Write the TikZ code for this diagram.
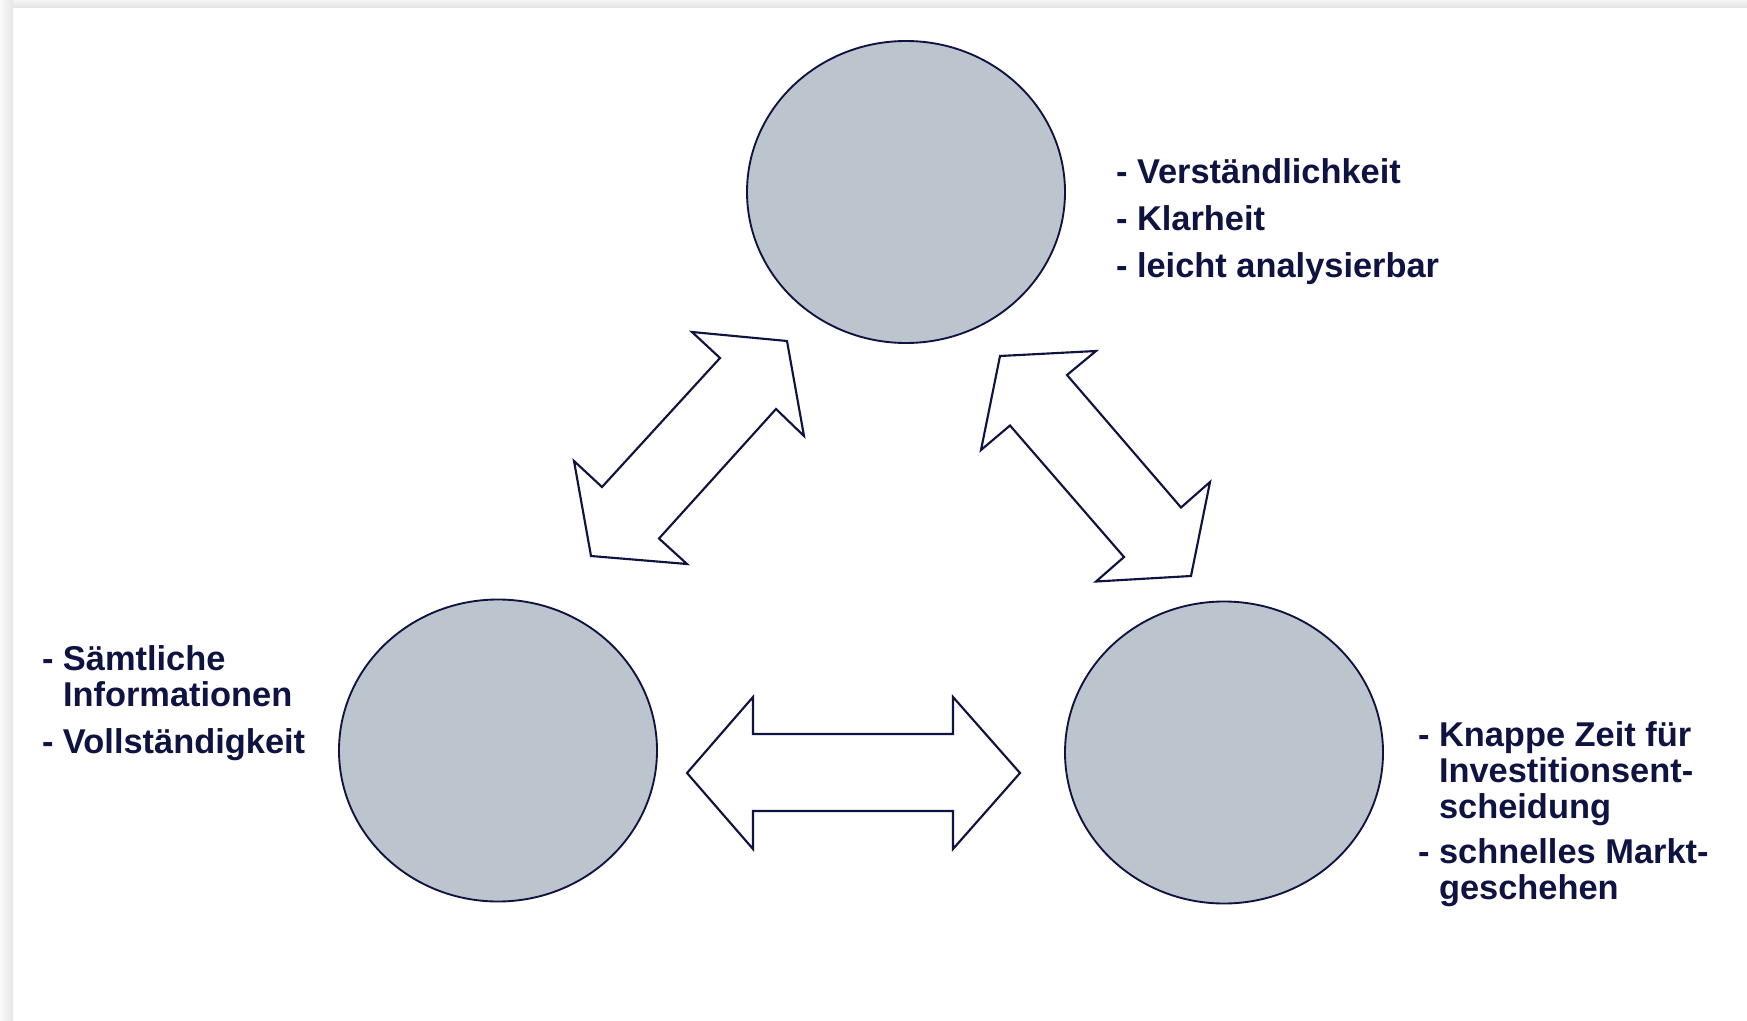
\documentclass[tikz,border=0pt]{standalone}
\usepackage{fontspec}
\setmainfont{Liberation Sans}
\usetikzlibrary{shapes.geometric}
\definecolor{navy}{HTML}{0E1341}
\definecolor{circfill}{HTML}{BCC4CE}
\begin{document}
\begin{tikzpicture}[x=0.75pt,y=-0.75pt,
  circ/.style={ellipse, draw=navy, fill=circfill, line width=1.4pt,
    minimum width=238.5pt, minimum height=226.5pt, inner sep=0pt, outer sep=0pt},
  arr/.style={draw=navy, fill=white, line width=1.6pt, line join=miter},
  lbl/.style={anchor=base west, inner sep=0pt, outer sep=0pt, text=navy,
    font=\fontsize{25.8}{27}\selectfont\bfseries}]
\useasboundingbox (0,0) rectangle (1747,1020);
\fill[white] (0,0) rectangle (1747,1020);
\shade[top color=black!4, bottom color=black!11] (0,0) rectangle (1747,8);
\shade[left color=black!2, right color=black!10] (0,0) rectangle (13,1020);

% circles
\node[circ] (top) at (906,192) {};
\node[circ] (bl) at (498,750.5) {};
\node[circ] (br) at (1224,752.5) {};

% double arrows
\draw[arr] (692,332) -- (787,341) -- (804,436) -- (776,409) -- (659,538.5)
  -- (687,564) -- (591,556) -- (574,461) -- (602,487) -- (720,358) -- cycle;
\draw[arr] (1000,356) -- (1096,351) -- (1067,375) -- (1181,507.5) -- (1210,482)
  -- (1191,576) -- (1096,581.5) -- (1124,557) -- (1010,425.5) -- (981,450) -- cycle;
\draw[arr] (687,773) -- (753,697) -- (753,734) -- (953,734) -- (953,697)
  -- (1020,773) -- (953,849) -- (953,811) -- (753,811) -- (753,849) -- cycle;

% labels
\node[lbl] (t1) at (1116,183) {- Verständlichkeit};
\node[lbl] (t2) at (1116,230) {- Klarheit};
\node[lbl] (t3) at (1116,277) {- leicht analysierbar};
\node[lbl] (l1) at (42,670) {- \begin{tabular}[t]{@{}l@{}}Sämtliche\\Informationen\end{tabular}};
\node[lbl] (l2) at (42,753) {- Vollständigkeit};
\node[lbl] (r1) at (1418,746.5) {- \begin{tabular}[t]{@{}l@{}}Knappe Zeit für\\Investitionsent-\\scheidung\end{tabular}};
\node[lbl] (r2) at (1418,863.5) {- \begin{tabular}[t]{@{}l@{}}schnelles Markt-\\geschehen\end{tabular}};
\end{tikzpicture}
\end{document}
